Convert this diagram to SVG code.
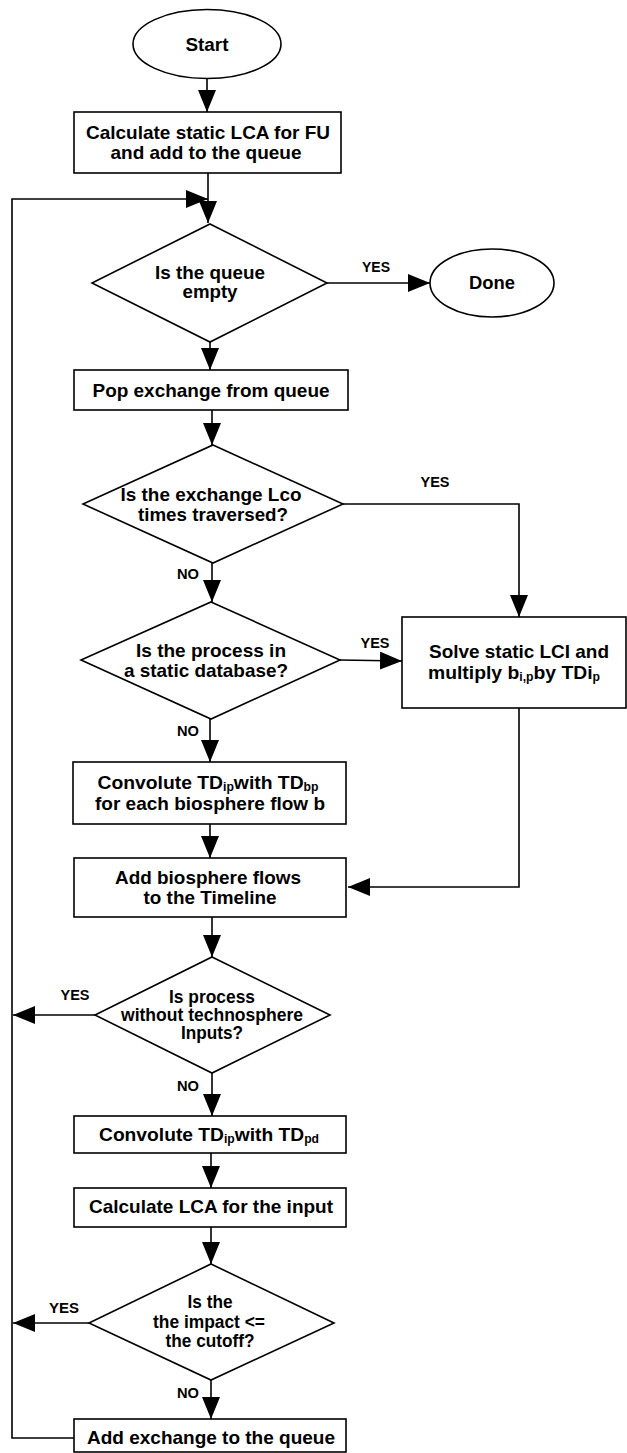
<svg xmlns="http://www.w3.org/2000/svg" width="627" height="1453" viewBox="0 0 627 1453">
  <style>
    .shape { fill: #ffffff; stroke: #000000; stroke-width: 1.6; }
    .edge { fill: none; stroke: #000000; stroke-width: 1.6; marker-end: url(#arrow); }
    .line { fill: none; stroke: #000000; stroke-width: 1.6; }
    .t { font-family: "Liberation Sans", Arial, sans-serif; font-weight: bold; font-size: 19px; fill: #000000; text-anchor: middle; }
    .ts { font-size: 17.5px; }
    .lbl { font-family: "Liberation Sans", Arial, sans-serif; font-weight: bold; font-size: 14.5px; fill: #000000; text-anchor: middle; }
    .sub { font-size: 12px; }
  </style>
  <defs>
    <marker id="arrow" markerUnits="userSpaceOnUse" markerWidth="22" markerHeight="18" viewBox="0 0 22 18" refX="22" refY="9" orient="auto">
      <path d="M0,0 L22,9 L0,18 Z" fill="#000000"/>
    </marker>
  </defs>
  <rect width="627" height="1453" fill="#ffffff"/>

  <!-- connectors -->
  <g id="connectors">
    <path class="edge" d="M207,78 L207,112"/>
    <path class="edge" d="M208,173 L208,223"/>
    <path class="edge" d="M74,1438 L12,1438 L12,199 L208,199"/>
    <path class="edge" d="M327,283 L430,283"/>
    <path class="edge" d="M210,342 L210,370"/>
    <path class="edge" d="M212,410 L212,445"/>
    <path class="edge" d="M343,504 L519,504 L519,617"/>
    <path class="edge" d="M212,563 L212,602"/>
    <path class="edge" d="M340,660 L402,661"/>
    <path class="edge" d="M519,708 L519,887 L348,887"/>
    <path class="edge" d="M210,719 L210,762"/>
    <path class="edge" d="M210,824 L210,858"/>
    <path class="edge" d="M212,917 L212,957"/>
    <path class="edge" d="M95,1015 L13,1015"/>
    <path class="edge" d="M212,1073 L212,1116"/>
    <path class="edge" d="M211,1153 L211,1188"/>
    <path class="edge" d="M211,1227 L211,1264"/>
    <path class="edge" d="M89,1323 L13,1323"/>
    <path class="edge" d="M211,1380 L211,1419"/>
    <text class="lbl" x="376" y="272" textLength="28" lengthAdjust="spacingAndGlyphs">YES</text>
    <text class="lbl" x="435" y="487" textLength="29" lengthAdjust="spacingAndGlyphs">YES</text>
    <text class="lbl" x="188" y="579" textLength="22" lengthAdjust="spacingAndGlyphs">NO</text>
    <text class="lbl" x="375" y="648" textLength="29" lengthAdjust="spacingAndGlyphs">YES</text>
    <text class="lbl" x="188" y="736" textLength="22" lengthAdjust="spacingAndGlyphs">NO</text>
    <text class="lbl" x="75" y="1000" textLength="29" lengthAdjust="spacingAndGlyphs">YES</text>
    <text class="lbl" x="188" y="1091" textLength="22" lengthAdjust="spacingAndGlyphs">NO</text>
    <text class="lbl" x="64" y="1313" textLength="30" lengthAdjust="spacingAndGlyphs">YES</text>
    <text class="lbl" x="188" y="1398" textLength="22" lengthAdjust="spacingAndGlyphs">NO</text>
  </g>

  <g id="start">
    <ellipse class="shape" cx="207" cy="44" rx="74" ry="34.5"/>
    <text class="t" x="207" y="51" textLength="43" lengthAdjust="spacingAndGlyphs">Start</text>
  </g>

  <g id="calc-static">
    <rect class="shape" x="74" y="112" width="267" height="61"/>
    <text class="t" x="208" y="139" textLength="244" lengthAdjust="spacingAndGlyphs">Calculate static LCA for FU</text>
    <text class="t" x="206" y="159" textLength="191" lengthAdjust="spacingAndGlyphs">and add to the queue</text>
  </g>

  <g id="queue-empty">
    <polygon class="shape" points="210,224 327,283 210,342 92,283"/>
    <text class="t" x="210" y="279" textLength="110" lengthAdjust="spacingAndGlyphs">Is the queue</text>
    <text class="t" x="210" y="298" textLength="55" lengthAdjust="spacingAndGlyphs">empty</text>
  </g>

  <g id="done">
    <ellipse class="shape" cx="492" cy="283" rx="62" ry="34"/>
    <text class="t" x="492" y="289" textLength="46" lengthAdjust="spacingAndGlyphs">Done</text>
  </g>

  <g id="pop">
    <rect class="shape" x="74" y="370" width="274" height="40"/>
    <text class="t" x="211" y="397" textLength="237" lengthAdjust="spacingAndGlyphs">Pop exchange from queue</text>
  </g>

  <g id="traversed">
    <polygon class="shape" points="213,445 343,504 213,563 83,504"/>
    <text class="t" x="211" y="501" textLength="181" lengthAdjust="spacingAndGlyphs">Is the exchange Lco</text>
    <text class="t" x="213" y="521" textLength="150" lengthAdjust="spacingAndGlyphs">times traversed?</text>
  </g>

  <g id="static-db">
    <polygon class="shape" points="211,602 340,660 211,719 81,660"/>
    <text class="t" x="211" y="657" textLength="150" lengthAdjust="spacingAndGlyphs">Is the process in</text>
    <text class="t" x="206" y="677" textLength="164" lengthAdjust="spacingAndGlyphs">a static database?</text>
  </g>

  <g id="solve-lci">
    <rect class="shape" x="402" y="617" width="224" height="91"/>
    <text class="t" x="519" y="658" textLength="180" lengthAdjust="spacingAndGlyphs">Solve static LCI and</text>
    <text class="t" x="514" y="679" textLength="172" lengthAdjust="spacingAndGlyphs">multiply b<tspan class="sub" dy="2">i,p</tspan><tspan dy="-2">by TDi</tspan><tspan class="sub" dy="2">p</tspan></text>
  </g>

  <g id="convolute-bio">
    <rect class="shape" x="73" y="762" width="273" height="62"/>
    <text class="t" x="208" y="789" textLength="221" lengthAdjust="spacingAndGlyphs">Convolute TD<tspan class="sub" dy="2">ip</tspan><tspan dy="-2">with TD</tspan><tspan class="sub" dy="2">bp</tspan></text>
    <text class="t" x="210" y="810" textLength="230" lengthAdjust="spacingAndGlyphs">for each biosphere flow b</text>
  </g>

  <g id="add-bio">
    <rect class="shape" x="74" y="858" width="272" height="59"/>
    <text class="t" x="208" y="884" textLength="186" lengthAdjust="spacingAndGlyphs">Add biosphere flows</text>
    <text class="t" x="210" y="904" textLength="133" lengthAdjust="spacingAndGlyphs">to the Timeline</text>
  </g>

  <g id="no-inputs">
    <polygon class="shape" points="212,957 330,1015 212,1073 95,1015"/>
    <text class="t ts" x="212" y="1003" textLength="86" lengthAdjust="spacingAndGlyphs">Is process</text>
    <text class="t ts" x="212" y="1021" textLength="182" lengthAdjust="spacingAndGlyphs">without technosphere</text>
    <text class="t ts" x="212" y="1039" textLength="62" lengthAdjust="spacingAndGlyphs">Inputs?</text>
  </g>

  <g id="convolute-pd">
    <rect class="shape" x="74" y="1116" width="272" height="37"/>
    <text class="t" x="209" y="1141" textLength="220" lengthAdjust="spacingAndGlyphs">Convolute TD<tspan class="sub" dy="2">ip</tspan><tspan dy="-2">with TD</tspan><tspan class="sub" dy="2">pd</tspan></text>
  </g>

  <g id="calc-input">
    <rect class="shape" x="74" y="1188" width="272" height="39"/>
    <text class="t" x="211" y="1213" textLength="244" lengthAdjust="spacingAndGlyphs">Calculate LCA for the input</text>
  </g>

  <g id="cutoff">
    <polygon class="shape" points="211,1264 334,1323 211,1380 89,1323"/>
    <text class="t ts" x="210" y="1308" textLength="45" lengthAdjust="spacingAndGlyphs">Is the</text>
    <text class="t ts" x="209" y="1328" textLength="112" lengthAdjust="spacingAndGlyphs">the impact &lt;=</text>
    <text class="t ts" x="210" y="1347" textLength="89" lengthAdjust="spacingAndGlyphs">the cutoff?</text>
  </g>

  <g id="add-exchange">
    <rect class="shape" x="74" y="1419" width="272" height="33"/>
    <text class="t" x="211" y="1444" textLength="248" lengthAdjust="spacingAndGlyphs">Add exchange to the queue</text>
  </g>
</svg>
